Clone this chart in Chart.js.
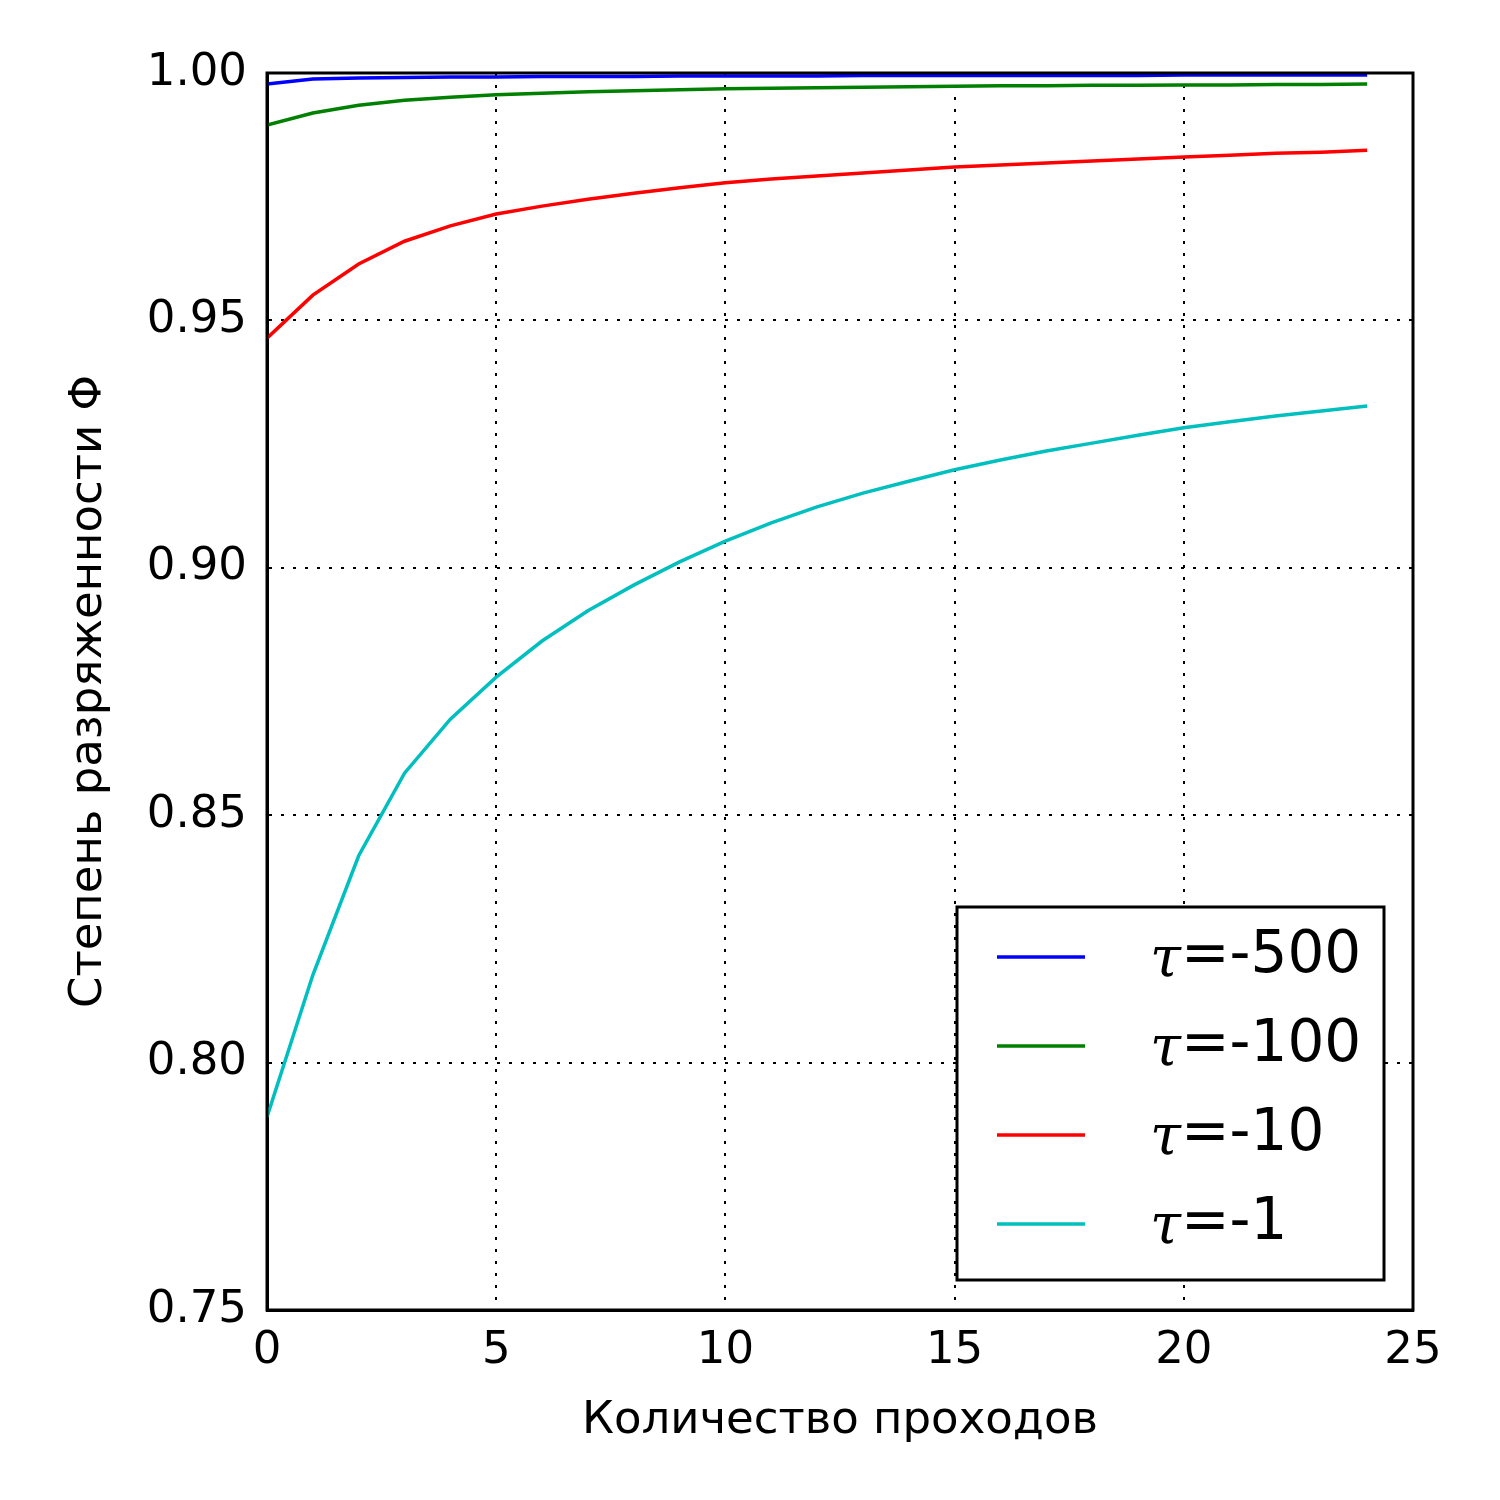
<!DOCTYPE html>
<html>
<head>
<meta charset="utf-8">
<script src="https://cdn.jsdelivr.net/npm/chart.js@4"></script>
<style>body{margin:0;background:#fff}</style>
</head>
<body>
<canvas id="myChart" width="1500" height="1500"></canvas>
<script>
var passes = [0,1,2,3,4,5,6,7,8,9,10,11,12,13,14,15,16,17,18,19,20,21,22,23,24];
var tau500 = [0.9978,0.9988,0.9990,0.9991,0.9992,0.9992,0.9993,0.9993,0.9993,0.9994,0.9994,0.9994,0.9994,0.9995,0.9995,0.9995,0.9995,0.9995,0.9995,0.9995,0.9996,0.9996,0.9996,0.9996,0.9996];
var tau100 = [0.9895,0.9919,0.9935,0.9945,0.9951,0.9956,0.9959,0.9962,0.9964,0.9966,0.9968,0.9969,0.9970,0.9971,0.9972,0.9973,0.9974,0.9974,0.9975,0.9975,0.9976,0.9976,0.9977,0.9977,0.9978];
var tau10 = [0.9464,0.9551,0.9614,0.9660,0.9691,0.9715,0.9731,0.9745,0.9757,0.9768,0.9778,0.9786,0.9792,0.9798,0.9804,0.9810,0.9814,0.9818,0.9822,0.9826,0.9830,0.9834,0.9838,0.9840,0.9844];
var tau1 = [0.789,0.8177,0.8418,0.8585,0.8694,0.8779,0.8852,0.8913,0.8965,0.9012,0.9054,0.9091,0.9123,0.9151,0.9175,0.9198,0.9218,0.9236,0.9252,0.9268,0.9283,0.9295,0.9307,0.9317,0.9327];
var seriesNames = ["-500","-100","-10","-1"];
var seriesColors = ["#0000ff","#008000","#ff0000","#00bfbf"];
var seriesValues = [tau500, tau100, tau10, tau1];

Chart.defaults.font.family = "DejaVu Sans";
Chart.defaults.color = "#000";

var legendBox = {
  id: "legendBox",
  afterDraw: function(chart) {
    var ctx = chart.ctx, a = chart.chartArea;
    var x1 = a.right - 29, y1 = a.bottom - 30, x0 = x1 - 427, y0 = y1 - 373;
    ctx.save();
    ctx.fillStyle = "#fff";
    ctx.fillRect(x0, y0, x1 - x0, y1 - y0);
    ctx.lineWidth = 3;
    ctx.strokeStyle = "#000";
    ctx.strokeRect(x0, y0, x1 - x0, y1 - y0);
    chart.data.datasets.forEach(function(ds, i) {
      var y = y0 + 50 + i * 89;
      ctx.strokeStyle = ds.borderColor;
      ctx.lineWidth = 3.5;
      ctx.beginPath();
      ctx.moveTo(x0 + 40, y);
      ctx.lineTo(x0 + 128, y);
      ctx.stroke();
      ctx.fillStyle = "#000";
      ctx.textBaseline = "middle";
      ctx.font = "italic 56px 'DejaVu Serif'";
      ctx.fillText("τ", x0 + 193, y + 4);
      var w = ctx.measureText("τ").width;
      ctx.font = "58px 'DejaVu Sans'";
      ctx.fillText("=" + seriesNames[i], x0 + 193 + w, y);
    });
    ctx.restore();
  }
};

new Chart("myChart", {
  type: "line",
  data: {
    labels: passes,
    datasets: seriesValues.map(function(v, i) {
      return {
        data: v.map(function(y, j) { return {x: passes[j], y: y}; }),
        borderColor: seriesColors[i],
        borderWidth: 3.5,
        pointRadius: 0,
        tension: 0
      };
    })
  },
  options: {
    responsive: false,
    animation: false,
    layout: {padding: {top: 73, right: 87, left: 0, bottom: 0}},
    plugins: {legend: {display: false}, tooltip: {enabled: false}},
    scales: {
      x: {
        type: "linear", min: 0, max: 25,
        afterFit: function(s) { s.height = 190; },
        ticks: {stepSize: 5, font: {size: 45}, padding: 14, maxRotation: 0},
        grid: {color: "#000", lineWidth: 2, drawTicks: false},
        border: {display: true, color: "#000", width: 3, dash: [3, 9]},
        title: {display: true, text: "Количество проходов", font: {size: 45}, padding: {top: 0, bottom: 52}}
      },
      y: {
        min: 0.75, max: 1.0,
        afterFit: function(s) { s.width = 267; },
        ticks: {stepSize: 0.05, font: {size: 45}, padding: 20, callback: function(v) { return v.toFixed(2); }},
        grid: {color: "#000", lineWidth: 2, drawTicks: false},
        border: {display: true, color: "#000", width: 3, dash: [3, 9]},
        title: {display: true, text: "Степень разряженности Φ", font: {size: 45}, padding: {top: 62, bottom: 0}}
      }
    }
  },
  plugins: [legendBox, {
    id: "frame",
    afterDatasetsDraw: function(chart) {
      var ctx = chart.ctx, a = chart.chartArea;
      ctx.save();
      ctx.lineWidth = 3;
      ctx.strokeStyle = "#000";
      ctx.setLineDash([]);
      ctx.strokeRect(a.left, a.top, a.right - a.left, a.bottom - a.top);
      ctx.restore();
    }
  }]
});
</script>
</body>
</html>
